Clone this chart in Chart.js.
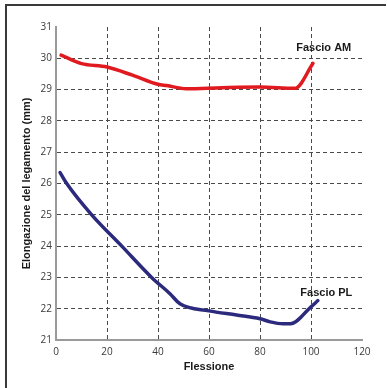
<!DOCTYPE html>
<html>
<head>
<meta charset="utf-8">
<script src="https://cdn.jsdelivr.net/npm/chart.js@4"></script>
<style>
  html, body { margin: 0; padding: 0; background: #fff; }
  #wrap { width: 387px; height: 388px; position: relative; }
</style>
</head>
<body>
<div id="wrap"><canvas id="chart"></canvas></div>
<script>
// Fascio AM (rosso)
const amFlex = [2, 10, 20, 30, 40, 43.4, 51, 65, 80, 93.7, 100.8];
const amElong = [30.1, 29.83, 29.72, 29.46, 29.17, 29.13, 29.03, 29.06, 29.08, 29.04, 29.84];

// Fascio PL (blu)
const plFlex = [1.6, 4.2, 14, 25.8, 37.5, 44.7, 48.6, 60, 70.8, 80, 84, 89, 92, 100, 102.7];
const plElong = [26.35, 26, 25, 24, 23, 22.48, 22.16, 21.93, 21.8, 21.68, 21.58, 21.52, 21.52, 22.06, 22.26];

const xTicks = [0, 20, 40, 60, 80, 100, 120];
const yTicks = [21, 22, 23, 24, 25, 26, 27, 28, 29, 30, 31];

const seriesLabels = [
  { text: "Fascio AM", x: 105, y: 30.32 },
  { text: "Fascio PL", x: 106, y: 22.5 }
];

const toPoints = (xs, ys) => xs.map((x, i) => ({ x: x, y: ys[i] }));

// cornice in alto e a sinistra
const framePlugin = {
  id: "frame",
  beforeDraw(chart) {
    const ctx = chart.ctx;
    ctx.save();
    ctx.strokeStyle = "#3a3a3a";
    ctx.lineWidth = 2;
    ctx.beginPath();
    ctx.moveTo(6, 388);
    ctx.lineTo(6, 5);
    ctx.lineTo(386, 5);
    ctx.stroke();
    ctx.restore();
  }
};

const labelPlugin = {
  id: "seriesLabels",
  afterDatasetsDraw(chart) {
    const ctx = chart.ctx;
    const xs = chart.scales.x, ys = chart.scales.y;
    ctx.save();
    ctx.font = "bold 11px 'Liberation Sans', Arial, sans-serif";
    ctx.fillStyle = "#1a1a1a";
    ctx.textAlign = "center";
    ctx.textBaseline = "middle";
    seriesLabels.forEach(l => ctx.fillText(l.text, xs.getPixelForValue(l.x), ys.getPixelForValue(l.y)));
    ctx.restore();
  }
};

const gridColor = (edge) => (c) => (c.tick && c.tick.value === edge ? "rgba(0,0,0,0)" : "#4a4a4a");

new Chart(document.getElementById("chart"), {
  type: "line",
  data: {
    datasets: [
      {
        label: "Fascio AM",
        data: toPoints(amFlex, amElong),
        borderColor: "#e01a1f",
        borderWidth: 3.5,
        pointRadius: 0,
        cubicInterpolationMode: "monotone",
        borderCapStyle: "round"
      },
      {
        label: "Fascio PL",
        data: toPoints(plFlex, plElong),
        borderColor: "#2c2a7c",
        borderWidth: 3.5,
        pointRadius: 0,
        cubicInterpolationMode: "monotone",
        borderCapStyle: "round"
      }
    ]
  },
  options: {
    responsive: true,
    maintainAspectRatio: false,
    animation: false,
    layout: { padding: { left: 0, top: 27, right: 25, bottom: 10 } },
    plugins: { legend: { display: false }, tooltip: { enabled: false } },
    scales: {
      x: {
        type: "linear",
        min: 0,
        max: 120,
        afterBuildTicks: (s) => { s.ticks = xTicks.map(v => ({ value: v })); },
        afterFit: (s) => { s.height = 38; },
        grid: { color: gridColor(120), lineWidth: 1, drawTicks: false },
        border: { display: true, color: "#9a9a9a", width: 2, dash: [4, 3] },
        ticks: { padding: 6, color: "#3a3a3a", font: { family: "'Open Sans', sans-serif", size: 10 } },
        title: {
          display: true,
          text: "Flessione",
          color: "#1a1a1a",
          font: { family: "'Liberation Sans', Arial, sans-serif", size: 11, weight: "bold" },
          padding: { top: 0, bottom: 4 }
        }
      },
      y: {
        min: 21,
        max: 31,
        afterBuildTicks: (s) => { s.ticks = yTicks.map(v => ({ value: v })); },
        afterFit: (s) => { s.width = 56; },
        grid: { color: gridColor(31), lineWidth: 1, drawTicks: false },
        border: { display: true, color: "#9a9a9a", width: 2, dash: [4, 3] },
        ticks: { padding: 4, color: "#3a3a3a", font: { family: "'Open Sans', sans-serif", size: 10 } },
        title: {
          display: true,
          text: "Elongazione del legamento (mm)",
          color: "#1a1a1a",
          font: { family: "'Liberation Sans', Arial, sans-serif", size: 11, weight: "bold" },
          padding: { top: 20, bottom: 0 }
        }
      }
    }
  },
  plugins: [framePlugin, labelPlugin]
});
</script>
</body>
</html>
